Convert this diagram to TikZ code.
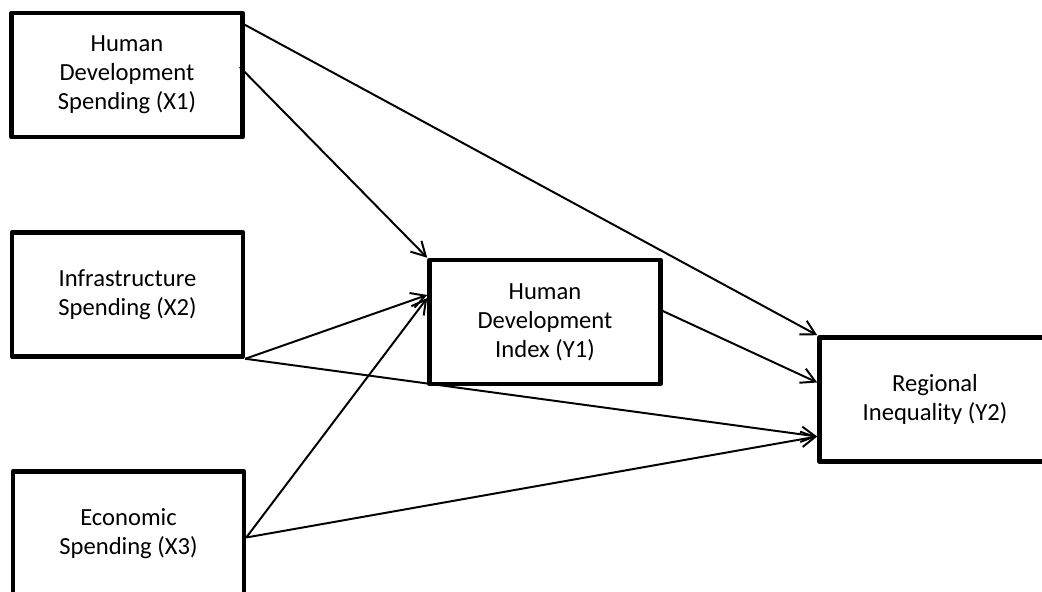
\documentclass[tikz,border=0pt]{standalone}
\usepackage{fontspec}
\setmainfont{Carlito}
\usetikzlibrary{arrows.meta,calc}
\tikzset{
  >={Straight Barb[length=10pt,width=11pt]},
}

\begin{document}
\begin{tikzpicture}[x=0.025cm, y=0.025cm,
  varbox/.style={draw, line width=3.2pt, line join=round, minimum width=5.775cm, minimum height=3.1cm, align=center, font=\fontsize{17.5}{20.5}\selectfont, inner sep=0pt},
  effect/.style={->, line width=1.4pt}
]
  \useasboundingbox (0,0) rectangle (1042,592);
  \clip (0,0) rectangle (1042,592);
  \node[varbox] (x1) at (127,517) {Human\\Development\\Spending (X1)};
  \node[varbox] (x2) at (127.5,297.5) {Infrastructure\\Spending (X2)};
  \node[varbox] (x3) at (128.5,58.5) {Economic\\Spending (X3)};
  \node[varbox] (y1) at (545,270) {Human\\Development\\Index (Y1)};
  \node[varbox] (y2) at (935,192.5) {Regional\\Inequality (Y2)};
  % paths to Y2
  \draw[effect] ($(x1.north east)+(0,-14)$) -- (y2.north west);
  \draw[effect] (x2.south east) -- ($(y2.west)+(0,-37)$);
  \draw[effect] ($(x3.east)+(0,-4)$) -- ($(y2.west)+(0,-37)$);
  \draw[effect] ($(y1.east)+(0,11)$) -- ($(y2.west)+(0,17)$);
  % paths to Y1
  \draw[effect] ($(x1.east)+(-5,8)$) -- (y1.north west);
  \draw[effect] (x2.south east) -- ($(y1.west)+(0,27)$);
  \draw[effect] ($(x3.east)+(0,-4)$) -- ($(y1.west)+(0,24)$);
\end{tikzpicture}
\end{document}
